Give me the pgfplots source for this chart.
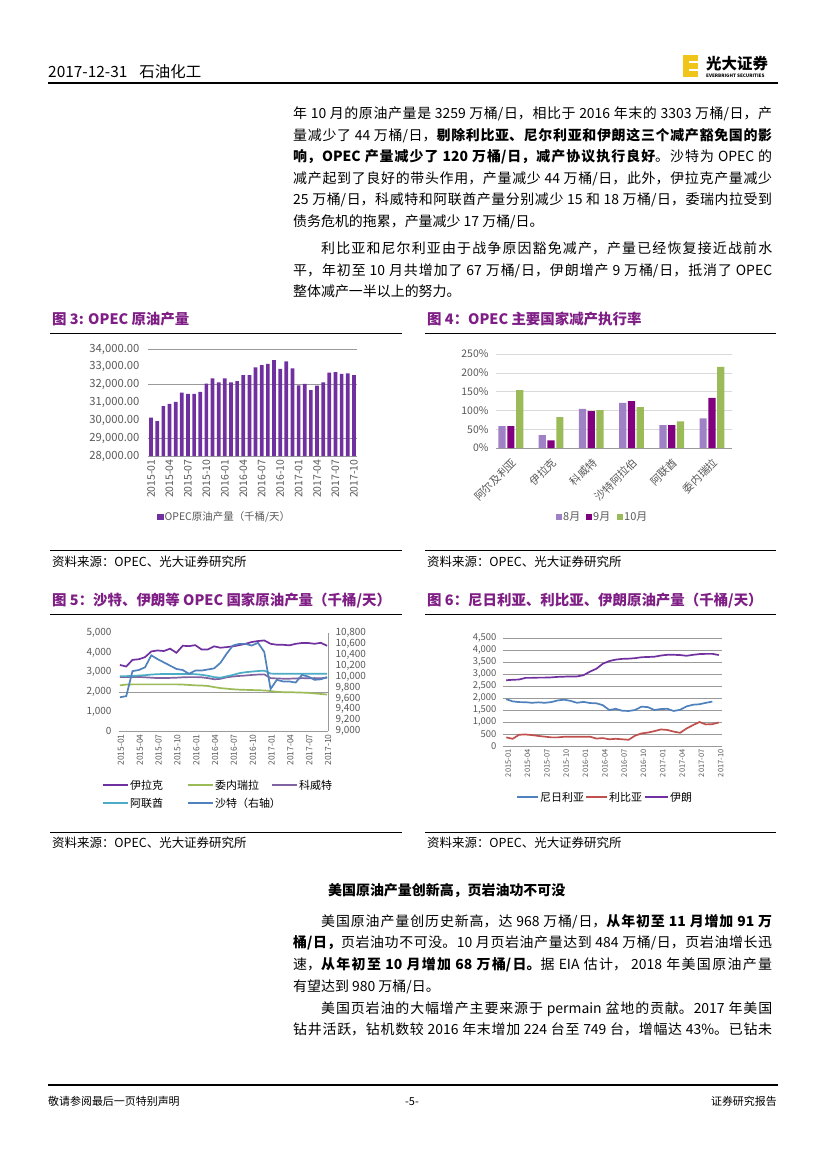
\documentclass[border=0pt]{standalone}
\usepackage{pgfplots}
\pgfplotsset{compat=1.18}
\usepackage{fontspec}
\setmainfont{Noto Sans CJK SC}
\XeTeXlinebreaklocale "zh"
\XeTeXlinebreakskip=0pt plus 2pt minus 0.3pt

\definecolor{ttl}{HTML}{7F1F86}
\definecolor{barp}{HTML}{7030A0}
\definecolor{lav}{HTML}{9F82C6}
\definecolor{mag}{HTML}{800080}
\definecolor{olive}{HTML}{9BBB59}
\definecolor{iraq}{HTML}{7030A0}
\definecolor{kuw}{HTML}{8064A2}
\definecolor{uae}{HTML}{4BACC6}
\definecolor{sau}{HTML}{4F81BD}
\definecolor{lib}{HTML}{C0504D}
\definecolor{tkg}{HTML}{595959}
\definecolor{grd}{HTML}{D9D9D9}
\definecolor{grd2}{HTML}{9A9A9A}
\definecolor{logo}{HTML}{F0C419}

\newcommand\fs[1]{\fontsize{#1}{#1}\selectfont}
\pgfplotsset{/pgf/number format/assume math mode=true}

\pgfplotsset{
  page axis/.style={
    scale only axis,
    anchor=south west,
    axis x line*=bottom, axis y line*=left,
    axis line style={-},
    x axis line style={draw=grd2},
    y axis line style={draw=none},
    tick style={draw=none},
    scaled y ticks=false,
    yticklabel style={text=tkg},
    xticklabel style={text=tkg},
  },
}

\begin{document}
\begin{tikzpicture}
\path[fill=white,use as bounding box] (0,0) rectangle (827bp,-1169bp);

\begin{scope}[x=1bp,y=-1bp]
% header
\node[anchor=base west,inner sep=0,font=\fs{15.5}] at (48,77) {2017-12-31\hspace{12bp}石油化工};
\draw[line width=1.3bp] (48,83) -- (778,83);
\fill[logo] (683,55) rectangle (698,77);
\draw[white,line width=1.2bp] (689,62) -- (698,62) (689,70) -- (698,70);
\node[anchor=base west,inner sep=0,font=\bfseries\fs{15.5}] at (706,69) {光大证券};
\node[anchor=base west,inner sep=0,font=\bfseries\fs{4.6}] at (706,77) {EVERBRIGHT SECURITIES};

% paragraph 1
\node[anchor=base west,inner sep=0,text width=479bp,align=justify,font=\fontsize{14}{21.6}\selectfont] at (293,118.5) {%
年 10 月的原油产量是 3259 万桶/日，相比于 2016 年末的 3303 万桶/日，产\linebreak
量减少了 44 万桶/日，\textbf{剔除利比亚、尼尔利亚和伊朗这三个减产豁免国的影}\linebreak
\textbf{响，OPEC 产量减少了 120 万桶/日，减产协议执行良好}。沙特为 OPEC 的\linebreak
减产起到了良好的带头作用，产量减少 44 万桶/日，此外，伊拉克产量减少\linebreak
25 万桶/日，科威特和阿联酋产量分别减少 15 和 18 万桶/日，委瑞内拉受到\linebreak
债务危机的拖累，产量减少 17 万桶/日。};

\node[anchor=base west,inner sep=0,text width=479bp,align=justify,font=\fontsize{14}{21.6}\selectfont] at (293,253.5) {%
\hspace*{28bp}利比亚和尼尔利亚由于战争原因豁免减产，产量已经恢复接近战前水\linebreak
平，年初至 10 月共增加了 67 万桶/日，伊朗增产 9 万桶/日，抵消了 OPEC\linebreak
整体减产一半以上的努力。};

% figure titles and rules
\node[anchor=base west,inner sep=0,font=\bfseries\fs{14.5},text=ttl] at (52,324) {图 3: OPEC 原油产量};
\node[anchor=base west,inner sep=0,font=\bfseries\fs{14.5},text=ttl] at (427,324) {图 4：OPEC 主要国家减产执行率};
\node[anchor=base west,inner sep=0,font=\bfseries\fs{14.5},text=ttl] at (52,605) {图 5：沙特、伊朗等 OPEC 国家原油产量（千桶/天）};
\node[anchor=base west,inner sep=0,font=\bfseries\fs{14.5},text=ttl] at (427,605) {图 6：尼日利亚、利比亚、伊朗原油产量（千桶/天）};
\draw[line width=0.9bp] (50,333) -- (402,333) (425,333) -- (776,333);
\draw[line width=0.9bp] (50,614) -- (402,614) (425,614) -- (776,614);
\draw[line width=0.9bp] (50,550) -- (402,550) (425,550) -- (776,550);
\draw[line width=0.9bp] (50,832) -- (402,832) (425,832) -- (776,832);
\node[anchor=base west,inner sep=0,font=\fs{12.5}] at (52,566) {资料来源：OPEC、光大证券研究所};
\node[anchor=base west,inner sep=0,font=\fs{12.5}] at (427,566) {资料来源：OPEC、光大证券研究所};
\node[anchor=base west,inner sep=0,font=\fs{12.5}] at (52,847) {资料来源：OPEC、光大证券研究所};
\node[anchor=base west,inner sep=0,font=\fs{12.5}] at (427,847) {资料来源：OPEC、光大证券研究所};

% legends
\fill[barp] (157,513.5) rectangle (163.5,520);
\node[anchor=west,inner sep=0,font=\fs{10.5},text=tkg] at (164.5,517) {OPEC原油产量（千桶/天）};
\fill[lav] (556,514) rectangle (562,520);
\node[anchor=west,inner sep=0,font=\fs{11},text=tkg] at (563,517) {8月};
\fill[mag] (586,514) rectangle (592,520);
\node[anchor=west,inner sep=0,font=\fs{11},text=tkg] at (593,517) {9月};
\fill[olive] (617,514) rectangle (623,520);
\node[anchor=west,inner sep=0,font=\fs{11},text=tkg] at (624,517) {10月};

\draw[iraq,line width=1.8bp] (103,785) -- (128,785);
\node[anchor=west,inner sep=0,font=\fs{11}] at (130,785) {伊拉克};
\draw[olive,line width=1.8bp] (188,785) -- (213,785);
\node[anchor=west,inner sep=0,font=\fs{11}] at (215,785) {委内瑞拉};
\draw[kuw,line width=1.8bp] (272,785) -- (297,785);
\node[anchor=west,inner sep=0,font=\fs{11}] at (299,785) {科威特};
\draw[uae,line width=1.8bp] (103,803) -- (128,803);
\node[anchor=west,inner sep=0,font=\fs{11}] at (130,803) {阿联酋};
\draw[sau,line width=1.8bp] (188,803) -- (213,803);
\node[anchor=west,inner sep=0,font=\fs{11}] at (215,803) {沙特（右轴）};

\draw[sau,line width=1.8bp] (517,797) -- (538,797);
\node[anchor=west,inner sep=0,font=\fs{11}] at (540,797) {尼日利亚};
\draw[lib,line width=1.8bp] (586,797) -- (607,797);
\node[anchor=west,inner sep=0,font=\fs{11}] at (609,797) {利比亚};
\draw[iraq,line width=1.8bp] (645,797) -- (668,797);
\node[anchor=west,inner sep=0,font=\fs{11}] at (670,797) {伊朗};

% section 2
\node[anchor=base west,inner sep=0,font=\bfseries\fs{14}] at (328,895) {美国原油产量创新高，页岩油功不可没};
\node[anchor=base west,inner sep=0,text width=479bp,align=justify,font=\fontsize{14}{21.8}\selectfont] at (293,926) {%
\hspace*{28bp}美国原油产量创历史新高，达 968 万桶/日，\textbf{从年初至 11 月增加 91 万}\linebreak
\textbf{桶/日，}页岩油功不可没。10 月页岩油产量达到 484 万桶/日，页岩油增长迅\linebreak
速，\textbf{从年初至 10 月增加 68 万桶/日。}据 EIA 估计， 2018 年美国原油产量\linebreak
有望达到 980 万桶/日。};
\node[anchor=base west,inner sep=0,text width=479bp,align=justify,font=\fontsize{14}{21.8}\selectfont] at (293,1013) {%
\hspace*{28bp}美国页岩油的大幅增产主要来源于 permain 盆地的贡献。2017 年美国\linebreak
钻井活跃，钻机数较 2016 年末增加 224 台至 749 台，增幅达 43\%。已钻未\linebreak};

% footer
\draw[line width=1.3bp] (48,1085) -- (778,1085);
\node[anchor=base west,inner sep=0,font=\fs{11}] at (48,1105) {敬请参阅最后一页特别声明};
\node[anchor=base,inner sep=0,font=\fs{11}] at (412,1105) {-5-};
\node[anchor=base east,inner sep=0,font=\fs{11}] at (777,1105) {证券研究报告};
\end{scope}

% ---------- Figure 3 ----------
\begin{axis}[page axis,
  at={(148bp,-456bp)}, width=209bp, height=107bp,
  xmin=-0.5, xmax=33.5, ymin=28000, ymax=34000,
  ytick={28000,29000,...,34000},
  yticklabel style={font=\fs{11.3}, xshift=-5bp,
    /pgf/number format/fixed, /pgf/number format/fixed zerofill,
    /pgf/number format/precision=2, /pgf/number format/1000 sep={,}},
  extra y ticks={29000,32000,34000}, extra y tick labels={},
  extra y tick style={grid=major}, grid style={draw=grd2},
  xtick={0,3,...,33},
  xticklabels={2015-01,2015-04,2015-07,2015-10,2016-01,2016-04,2016-07,2016-10,2017-01,2017-04,2017-07,2017-10},
  xticklabel style={rotate=90, anchor=east, font=\fs{10.5}},
]
\addplot[ybar, bar width=3.7bp, fill=barp, draw=none] coordinates {
(0,30150)(1,29960)(2,30800)(3,30930)(4,31030)(5,31550)(6,31480)(7,31480)(8,31590)(9,32060)
(10,32350)(11,32130)(12,32350)(13,32130)(14,32200)(15,32540)(16,32540)(17,32970)(18,33100)(19,33160)
(20,33380)(21,32880)(22,33310)(23,32920)(24,31960)(25,32040)(26,31700)(27,31940)(28,32130)(29,32670)
(30,32710)(31,32600)(32,32640)(33,32540)};
\end{axis}

% ---------- Figure 4 ----------
\begin{axis}[page axis,
  at={(496bp,-448bp)}, width=236bp, height=94bp,
  ybar=1.6bp, bar width=7.2bp,
  xmin=-0.37, xmax=5.5, ymin=0, ymax=250,
  ytick={0,50,...,250},
  yticklabel={\pgfmathprintnumber{\tick}\%},
  yticklabel style={font=\fs{10.5}, xshift=-4bp},
  ymajorgrids, grid style={draw=grd},
  xtick={0,...,5},
  xticklabels={阿尔及利亚,伊拉克,科威特,沙特阿拉伯,阿联酋,委内瑞拉},
  xticklabel style={rotate=45, anchor=north east, font=\fs{10.8}},
]
\addplot[fill=lav, draw=none] coordinates {(0,58)(1,34)(2,104)(3,120)(4,61)(5,79)};
\addplot[fill=mag, draw=none] coordinates {(0,58)(1,20)(2,98)(3,125)(4,61)(5,133)};
\addplot[fill=olive, draw=none] coordinates {(0,154)(1,82)(2,101)(3,109)(4,71)(5,216)};
\end{axis}

% ---------- Figure 5 ----------
\begin{axis}[page axis,
  at={(119bp,-731bp)}, width=209bp, height=98bp,
  xmin=-0.15, xmax=33.15, ymin=0, ymax=5000,
  ytick={0,1000,...,5000},
  yticklabel style={font=\fs{10}, xshift=-4bp, /pgf/number format/1000 sep={,}},
  extra y ticks={2000}, extra y tick labels={},
  extra y tick style={grid=major}, grid style={draw=grd2},
  xtick={0,3,...,33},
  xticklabels={2015-01,2015-04,2015-07,2015-10,2016-01,2016-04,2016-07,2016-10,2017-01,2017-04,2017-07,2017-10},
  xticklabel style={rotate=90, anchor=east, font=\fs{8.5}, yshift=-1bp},
]
\addplot[iraq, line width=1.7bp] coordinates {
(0,3370)(1,3290)(2,3630)(3,3660)(4,3770)(5,4060)(6,4110)(7,4080)(8,4200)(9,3990)
(10,4350)(11,4330)(12,4380)(13,4160)(14,4160)(15,4320)(16,4250)(17,4280)(18,4320)(19,4380)
(20,4450)(21,4540)(22,4590)(23,4620)(24,4450)(25,4400)(26,4400)(27,4370)(28,4450)(29,4490)
(30,4490)(31,4450)(32,4500)(33,4350)};
\addplot[olive, line width=1.7bp] coordinates {
(0,2330)(1,2370)(2,2380)(3,2380)(4,2380)(5,2380)(6,2380)(7,2380)(8,2380)(9,2380)
(10,2370)(11,2350)(12,2330)(13,2320)(14,2300)(15,2240)(16,2190)(17,2160)(18,2130)(19,2110)
(20,2100)(21,2090)(22,2080)(23,2070)(24,2040)(25,2000)(26,1980)(27,1980)(28,1970)(29,1960)
(30,1950)(31,1920)(32,1890)(33,1860)};
\addplot[kuw, line width=1.7bp] coordinates {
(0,2750)(1,2750)(2,2750)(3,2760)(4,2740)(5,2720)(6,2700)(7,2700)(8,2710)(9,2720)
(10,2740)(11,2750)(12,2750)(13,2740)(14,2700)(15,2640)(16,2660)(17,2740)(18,2780)(19,2810)
(20,2830)(21,2860)(22,2880)(23,2890)(24,2700)(25,2680)(26,2670)(27,2670)(28,2680)(29,2700)
(30,2690)(31,2700)(32,2690)(33,2720)};
\addplot[uae, line width=1.7bp] coordinates {
(0,2800)(1,2800)(2,2810)(3,2830)(4,2850)(5,2880)(6,2900)(7,2910)(8,2910)(9,2910)
(10,2910)(11,2910)(12,2900)(13,2870)(14,2820)(15,2750)(16,2720)(17,2790)(18,2860)(19,2950)
(20,3000)(21,3030)(22,3060)(23,3080)(24,2930)(25,2920)(26,2920)(27,2920)(28,2920)(29,2920)
(30,2920)(31,2920)(32,2920)(33,2920)};
\end{axis}
\begin{axis}[page axis,
  at={(119bp,-731bp)}, width=209bp, height=98bp,
  xmin=-0.15, xmax=33.15, ymin=9000, ymax=10800,
  axis y line*=right, axis x line=none,
  y axis line style={draw=grd2},
  ytick={9000,9200,...,10800},
  yticklabel style={font=\fs{10}, xshift=4bp, /pgf/number format/1000 sep={,}},
  xtick=\empty,
]
\addplot[sau, line width=1.7bp] coordinates {
(0,9620)(1,9640)(2,10100)(3,10120)(4,10170)(5,10390)(6,10320)(7,10260)(8,10200)(9,10140)
(10,10120)(11,10050)(12,10110)(13,10110)(14,10130)(15,10150)(16,10250)(17,10420)(18,10570)(19,10600)
(20,10600)(21,10570)(22,10620)(23,10450)(24,9770)(25,9940)(26,9910)(27,9910)(28,9890)(29,10030)
(30,10000)(31,9940)(32,9950)(33,9990)};
\end{axis}

% ---------- Figure 6 ----------
\begin{axis}[page axis,
  at={(503bp,-746bp)}, width=219bp, height=108bp,
  xmin=-0.5, xmax=33.5, ymin=0, ymax=4500,
  ytick={0,500,...,4500},
  yticklabel style={font=\fs{9.5}, xshift=-3bp, /pgf/number format/1000 sep={,}},
  ymajorgrids, grid style={draw=grd2},
  xtick={0,3,...,33},
  xticklabels={2015-01,2015-04,2015-07,2015-10,2016-01,2016-04,2016-07,2016-10,2017-01,2017-04,2017-07,2017-10},
  xticklabel style={rotate=90, anchor=east, font=\fs{7.5}, yshift=-2bp},
]
\addplot[sau, line width=1.7bp] coordinates {
(0,1950)(1,1860)(2,1830)(3,1825)(4,1800)(5,1820)(6,1800)(7,1830)(8,1900)(9,1930)
(10,1880)(11,1800)(12,1840)(13,1790)(14,1780)(15,1700)(16,1500)(17,1550)(18,1470)(19,1460)
(20,1500)(21,1640)(22,1620)(23,1500)(24,1540)(25,1550)(26,1460)(27,1510)(28,1650)(29,1720)
(30,1740)(31,1800)(32,1850)};
\addplot[lib, line width=1.7bp] coordinates {
(0,360)(1,300)(2,470)(3,480)(4,455)(5,420)(6,390)(7,360)(8,360)(9,385)
(10,390)(11,390)(12,390)(13,390)(14,310)(15,330)(16,280)(17,300)(18,280)(19,260)
(20,430)(21,525)(22,560)(23,620)(24,690)(25,670)(26,600)(27,550)(28,730)(29,870)
(30,1000)(31,900)(32,910)(33,980)};
\addplot[iraq, line width=1.7bp] coordinates {
(0,2740)(1,2760)(2,2770)(3,2840)(4,2840)(5,2850)(6,2850)(7,2860)(8,2880)(9,2890)
(10,2900)(11,2900)(12,2950)(13,3100)(14,3220)(15,3430)(16,3540)(17,3600)(18,3630)(19,3640)
(20,3660)(21,3700)(22,3710)(23,3720)(24,3770)(25,3800)(26,3800)(27,3790)(28,3760)(29,3800)
(30,3830)(31,3840)(32,3840)(33,3790)};
\end{axis}
\end{tikzpicture}
\end{document}
